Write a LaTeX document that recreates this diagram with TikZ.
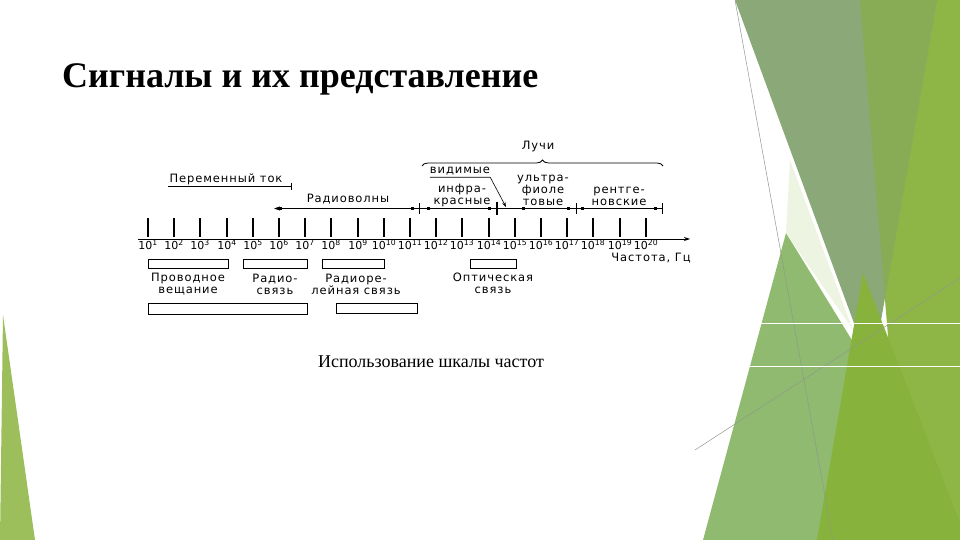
\documentclass[tikz,border=0pt]{standalone}
\usepackage{fontspec}
\setmainfont{Liberation Serif}
\newfontfamily\dfont[LetterSpace=8]{DejaVu Sans}
\newfontfamily\tfont{DejaVu Sans}
\usetikzlibrary{arrows.meta,decorations.pathreplacing}
\definecolor{gBright}{HTML}{8DB646}
\definecolor{gGray}{HTML}{8BA878}
\definecolor{gOver}{HTML}{87AC55}
\definecolor{gLight}{HTML}{90BA70}
\definecolor{gMid}{HTML}{87B23B}
\definecolor{gLeft}{HTML}{9DBF5B}
\definecolor{gCream}{HTML}{EEF4E2}
\definecolor{thinln}{HTML}{8E9A8A}
\tikzset{
  lbl/.style={font=\dfont\fontsize{11.5}{12}\selectfont, inner sep=0pt, align=center},
  ticklbl/.style={font=\tfont\fontsize{11}{12}\selectfont, inner sep=0pt, fill=white},
  tk/.style={line width=1.8pt},
  rng/.style={line width=0.8pt},
  boxst/.style={draw, line width=0.8pt, inner sep=0pt, minimum height=9pt},
  dotst/.style={fill, inner sep=0pt, minimum size=3pt},
  barst/.style={line width=0.9pt}
}
\begin{document}
\begin{tikzpicture}[x=1pt,y=-1pt]
\useasboundingbox (0,0) rectangle (960,540);
% ---------- background decoration ----------
\fill[gLeft] (0,540) -- (3,315) -- (35,540) -- cycle;
\fill[gLight] (703,540) -- (786,233) -- (975,540) -- cycle;
\fill[gBright] (860,0) -- (960,0) -- (960,540) -- (905,540) -- cycle;
\fill[gGray] (735,0) -- (937,0) -- (872,372) -- cycle;
\fill[gOver] (860,0) -- (937,0) -- (885,298) -- cycle;
\fill[gCream] (790,160) -- (853,330) -- (786,233) -- cycle;
\fill[gMid] (863,273) -- (817,540) -- (960,540) -- (960,523) -- cycle;
\draw[thinln, line width=0.5pt] (735,0) -- (833,540);
\draw[thinln, line width=0.5pt] (695,450) -- (960,278);
\draw[white, line width=1pt] (760,323) -- (960,323);
\draw[white, line width=1pt] (747,366) -- (960,366);
% ---------- title and caption ----------
\node[anchor=base west, inner sep=0pt, font=\bfseries\fontsize{36}{40}\selectfont] (title) at (62,88) {Сигналы и их представление};
\node[inner sep=0pt, font=\fontsize{18}{20}\selectfont] (caption) at (431,362) {Использование шкалы частот};
% ---------- axis ----------
\coordinate (axA) at (138,239);
\coordinate (axB) at (690,239);
\draw[line width=0.8pt, -{Stealth[length=6pt,width=4pt]}] (axA) -- (axB);
\foreach \n in {1,...,20} {
  \pgfmathsetmacro\xx{round(148+26.2*(\n-1))}
  \draw[tk] (\xx,218) -- (\xx,237);
  \node[ticklbl] (t\n) at (\xx,245) {10\textsuperscript{\n}};
}
\node[lbl] (freq) at (651,258) {Частота, Гц};
% ---------- ranges ----------
\node[lbl] (pt) at (226,179) {Переменный ток};
\coordinate (ptA) at (168,186);
\coordinate (ptB) at (292,186);
\draw[rng, -{Bar[width=7pt]}] (ptA) -- (ptB);
\node[lbl] (rv) at (348,199) {Радиоволны};
\coordinate (rvA) at (274,208.5);
\coordinate (rvB) at (412,208.5);
\coordinate (rEnd) at (662,208.5);
\draw[rng, -{Stealth[length=6pt,width=4pt]}] (rvB) -- (rvA);
\draw[rng] (rvB) -- (rEnd);
\foreach \x in {280,412,428,489,523,568,582,655} {
  \node[dotst] at (\x,208.5) {};
}
\foreach \x in {419,576,662} {
  \draw[barst] (\x,203) -- (\x,214);
}
\draw[line width=1.6pt] (497,202) -- (497,215);
\node[lbl] (ir) at (462,196) {инфра-\\красные};
\node[lbl] (uv) at (543,190) {ультра-\\фиоле\\товые};
\node[lbl] (xr) at (619,196) {рентге-\\новские};
\node[lbl] (vis) at (460,171) {видимые};
\coordinate (visTip) at (506,207);
\draw[line width=0.6pt, -{Stealth[length=5pt,width=3.5pt]}] ([yshift=-2pt]vis.south west) -- ([yshift=-2pt]vis.south east) -- (visTip);
\node[lbl] (rays) at (538,147) {Лучи};
\coordinate (brA) at (422,166);
\coordinate (brB) at (663,166);
\draw[line width=0.8pt, decorate, decoration={brace, amplitude=6pt}] (brA) -- (brB);
% ---------- application boxes ----------
\node[boxst, minimum width=80pt] (b1) at (188,263.5) {};
\node[boxst, minimum width=64pt] (b2) at (275,263.5) {};
\node[boxst, minimum width=62pt] (b3) at (353,263.5) {};
\node[boxst, minimum width=46pt] (b4) at (493,263.5) {};
\node[boxst, minimum width=159pt, minimum height=11pt] (b5) at (227.5,308.5) {};
\node[boxst, minimum width=81pt, minimum height=10pt] (b6) at (376.5,308) {};
\node[lbl] (l1) at (188,284) {Проводное\\вещание};
\node[lbl] (l2) at (275,284) {Радио-\\связь};
\node[lbl] (l3) at (356,284) {Радиоре-\\лейная связь};
\node[lbl] (l4) at (493,283) {Оптическая\\связь};
\end{tikzpicture}
\end{document}
